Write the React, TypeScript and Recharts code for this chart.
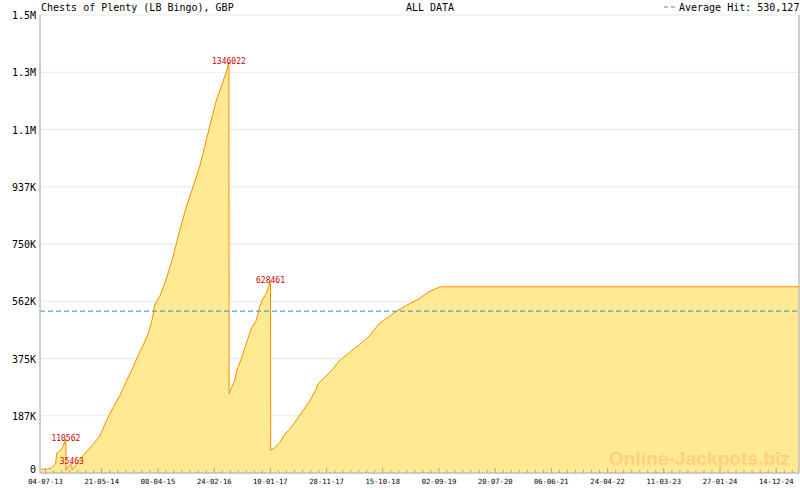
import { AreaChart, Area, XAxis, YAxis, CartesianGrid, ReferenceLine, LabelList } from 'recharts';

const FONT = '"DejaVu Sans Mono", monospace';

// axis range and tick labels (dd-mm-yy)
const X_START = '2013-06-02';
const X_END = '2025-04-23';
const tickLabels = [
  '04-07-13', '21-05-14', '08-04-15', '24-02-16', '10-01-17', '28-11-17', '15-10-18',
  '02-09-19', '20-07-20', '06-06-21', '24-04-22', '11-03-23', '27-01-24', '14-12-24',
];
const yTicks = [0, 187500, 375000, 562500, 750000, 937500, 1125000, 1312500, 1500000];
const yTickLabels = ['0', '187K', '375K', '562K', '750K', '937K', '1.1M', '1.3M', '1.5M'];

// jackpot level over time
const dates = [
  '2013-06-07', '2013-07-15', '2013-08-07', '2013-08-30', '2013-09-06', '2013-09-24', '2013-10-11',
  '2013-10-28', '2013-10-29', '2013-11-12', '2013-12-01', '2013-12-02', '2013-12-10', '2014-01-16',
  '2014-02-23', '2014-04-02', '2014-05-10', '2014-06-17', '2014-07-25', '2014-09-01', '2014-10-10',
  '2014-11-16', '2014-12-15', '2015-01-12', '2015-02-10', '2015-03-07', '2015-03-20', '2015-04-18',
  '2015-05-26', '2015-07-03', '2015-08-10', '2015-09-17', '2015-10-25', '2015-12-02', '2015-12-31',
  '2016-01-28', '2016-03-07', '2016-04-04', '2016-05-03', '2016-05-18', '2016-05-19', '2016-06-19',
  '2016-07-08', '2016-07-27', '2016-08-15', '2016-09-22', '2016-10-21', '2016-11-09', '2016-11-28',
  '2016-12-17', '2017-01-11', '2017-01-12', '2017-02-04', '2017-03-04', '2017-04-02', '2017-04-30',
  '2017-06-26', '2017-08-23', '2017-09-30', '2017-10-08', '2017-11-25', '2018-01-02', '2018-02-09',
  '2018-04-07', '2018-06-03', '2018-07-30', '2018-09-25', '2018-12-20', '2019-02-15', '2019-05-12',
  '2019-07-08', '2019-09-09', '2025-04-23',
];
const values = [
  12000, 13000, 17000, 30000, 65000, 72000, 85000,
  110562, 9000, 20000, 35463, 12000, 15000, 45000,
  70000, 94000, 121000, 171000, 214000, 253000, 302000,
  346000, 384000, 417000, 455000, 505000, 550000, 578000,
  636000, 707000, 794000, 871000, 936000, 1002000, 1068000,
  1133000, 1221000, 1265000, 1314000, 1346022, 260000, 302000,
  346000, 373000, 406000, 472000, 499000, 543000, 570000,
  587000, 628461, 75000, 83000, 99000, 127000, 143000,
  187000, 236000, 275000, 291000, 318000, 340000, 368000,
  394000, 420000, 449000, 489000, 525000, 545000, 571000,
  594000, 610000, 610000,
];

// jackpot hits
const hitDates = ['2013-10-28', '2013-12-01', '2016-05-18', '2017-01-11'];
const hitAmounts = [110562, 35463, 1346022, 628461];

const AVERAGE_HIT = 530127;

const toTime = (s: string) => Date.parse(s + 'T00:00:00Z');
const labelToTime = (s: string) => {
  const [d, m, y] = s.split('-').map(Number);
  return Date.UTC(2000 + y, m - 1, d);
};

const xStart = toTime(X_START);
const xEnd = toTime(X_END);
const majorTimes = tickLabels.map(labelToTime);

// 6 small ticks between each pair of labelled ticks
const allTicks: number[] = [];
const step = (majorTimes[1] - majorTimes[0]) / 7;
majorTimes.forEach((t, i) => {
  const next = i < majorTimes.length - 1 ? majorTimes[i + 1] : xEnd;
  const s = i < majorTimes.length - 1 ? (next - t) / 7 : step;
  for (let k = 0; t + k * s < next - 1; k++) allTicks.push(t + k * s);
});

const data = dates.map((d, i) => {
  const h = hitDates.indexOf(d);
  return { t: toTime(d), value: values[i], hit: h >= 0 ? hitAmounts[h] : undefined };
});

function DateTick(props: any) {
  const { x, y, payload } = props;
  const i = majorTimes.indexOf(payload.value);
  if (i < 0) return <line x1={x} x2={x} y1={y - 3} y2={y} stroke="#aaa" />;
  return (
    <g>
      <line x1={x} x2={x} y1={y - 5} y2={y} stroke="#aaa" />
      <text x={x} y={y + 10.5} textAnchor="middle" fontSize={7.2} fontFamily={FONT} fill="#000">
        {tickLabels[i]}
      </text>
    </g>
  );
}

function ValueTick(props: any) {
  const { x, y, payload } = props;
  const i = yTicks.indexOf(payload.value);
  // the zero label sits a little higher so it clears the date labels
  const dy = payload.value === 0 ? 0 : 4;
  return (
    <text x={x} y={y + dy} textAnchor="end" fontSize={10} fontFamily={FONT} fill="#000">
      {yTickLabels[i]}
    </text>
  );
}

function HitLabel(props: any) {
  const { x, y, value } = props;
  if (value === undefined || value === null) return null;
  return (
    <text x={x} y={y + 1.5} textAnchor="middle" fontSize={8} fontFamily={FONT} fill="#cc0000">
      {value}
    </text>
  );
}

export default function App() {
  return (
    <div style={{ position: 'fixed', left: 0, top: 0, width: 800, height: 490, background: '#fff' }}>
      <AreaChart width={800} height={490} data={data} margin={{ top: 15, right: 0, bottom: 0, left: 0 }}>
        <CartesianGrid xAxisId="top" stroke="#e8e8e8" />
        <XAxis
          dataKey="t"
          type="number"
          domain={[xStart, xEnd]}
          allowDataOverflow
          ticks={allTicks}
          interval={0}
          tick={<DateTick />}
          tickLine={false}
          tickSize={0}
          tickMargin={0}
          height={17}
          axisLine={{ stroke: '#aaa' }}
        />
        <XAxis
          xAxisId="top"
          orientation="top"
          type="number"
          domain={[xStart, xEnd]}
          allowDataOverflow
          ticks={majorTimes}
          interval={0}
          tick={false}
          tickLine={false}
          height={0}
          axisLine={{ stroke: '#aaa' }}
        />
        <YAxis
          type="number"
          domain={[0, 1500000]}
          ticks={yTicks}
          interval={0}
          width={40}
          tickLine={false}
          tickSize={4}
          tickMargin={0}
          tick={<ValueTick />}
          axisLine={{ stroke: '#aaa' }}
        />
        <YAxis
          yAxisId="right"
          orientation="right"
          width={1}
          domain={[0, 1]}
          tick={false}
          tickLine={false}
          axisLine={{ stroke: '#aaa' }}
        />
        <Area
          type="linear"
          dataKey="value"
          stroke="#ff8c00"
          strokeWidth={1}
          fill="#ffe992"
          fillOpacity={1}
          dot={false}
          activeDot={false}
          isAnimationActive={false}
        >
          <LabelList dataKey="hit" content={<HitLabel />} />
        </Area>
        <ReferenceLine y={AVERAGE_HIT} stroke="#1f9ad6" strokeDasharray="5 3" />
      </AreaChart>
      <svg width={800} height={490} style={{ position: 'absolute', left: 0, top: 0, pointerEvents: 'none' }}>
        <text x={41} y={10.5} fontSize={10} fontFamily={FONT} fill="#000">
          Chests of Plenty (LB Bingo), GBP
        </text>
        <text x={430} y={10.5} textAnchor="middle" fontSize={10} fontFamily={FONT} fill="#000">
          ALL DATA
        </text>
        <line x1={664} x2={678} y1={7} y2={7} stroke="#1f9ad6" strokeDasharray="4 3" />
        <text x={679} y={10.5} fontSize={10} fontFamily={FONT} fill="#000">
          {'Average Hit: ' + AVERAGE_HIT.toLocaleString('en-US')}
        </text>
        <text
          x={609}
          y={465}
          fontSize={19}
          fontWeight="bold"
          fontFamily='"Liberation Sans", Arial, sans-serif'
          fill="#fcd27c"
          textLength={181}
        >
          Online-Jackpots.biz
        </text>
      </svg>
    </div>
  );
}
